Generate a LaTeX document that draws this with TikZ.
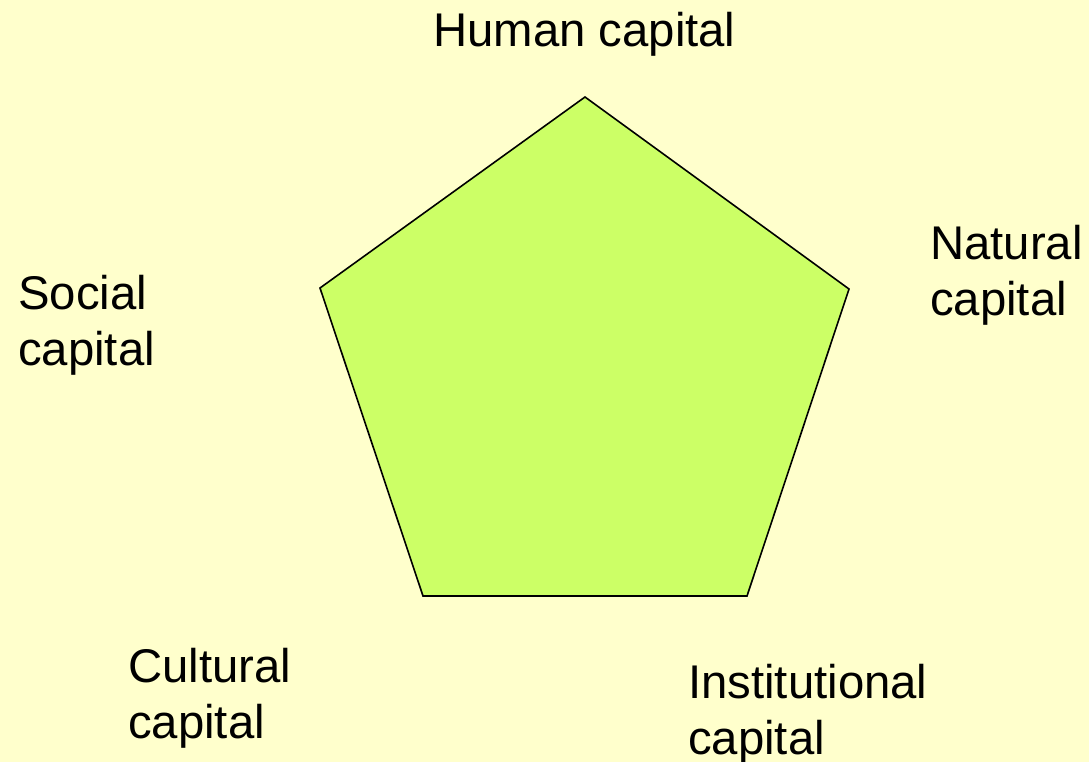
\documentclass[tikz,border=0pt]{standalone}
\usepackage{fontspec}
\setmainfont{Liberation Sans}
\definecolor{bgyellow}{HTML}{FFFFCC}
\definecolor{pentgreen}{HTML}{CCFF66}
\begin{document}
\begin{tikzpicture}[x=1pt,y=-1pt,
  lbl/.style={anchor=base west,inner sep=0pt,align=left,
    font=\fontsize{47.3}{56}\selectfont}]
\fill[bgyellow] (0,0) rectangle (1089,762);
\useasboundingbox (0,0) rectangle (1089,762);
\coordinate (t) at (585,97);
\coordinate (r) at (849,289);
\coordinate (br) at (747,596);
\coordinate (bl) at (423,596);
\coordinate (l) at (320,288);
\draw[fill=pentgreen,line width=1.6pt,line join=miter] (t) -- (r) -- (br) -- (bl) -- (l) -- cycle;
\node[lbl] (human) at (433,47) {Human capital};
\node[lbl] (natural) at (930,315) {Natural\\capital};
\node[lbl] (social) at (18,365) {Social\\capital};
\node[lbl] (cultural) at (128,738) {Cultural\\capital};
\node[lbl] (inst) at (688,754) {Institutional\\capital};
\end{tikzpicture}
\end{document}
